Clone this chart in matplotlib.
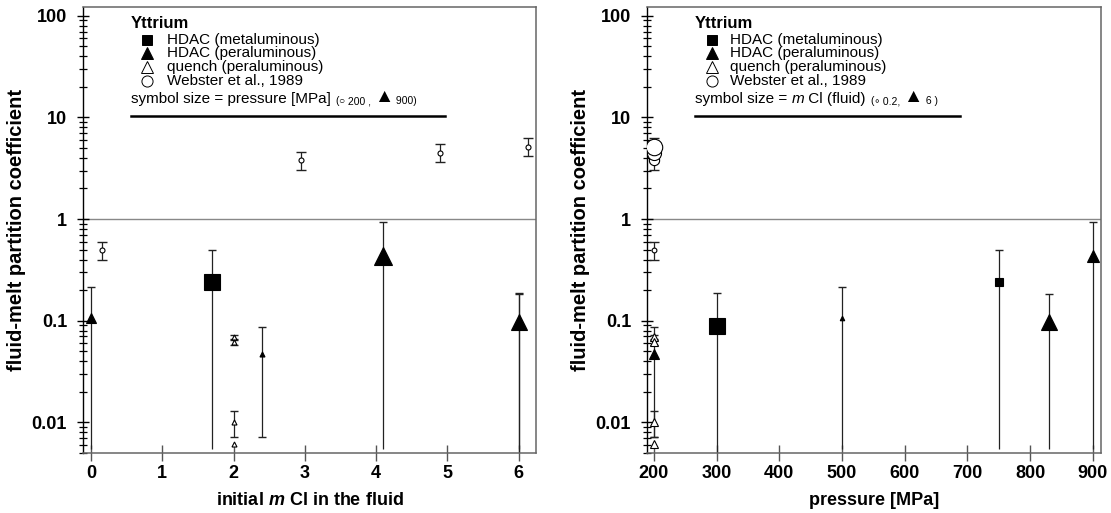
import numpy as np
import matplotlib
matplotlib.use("Agg")
import matplotlib.pyplot as plt
from matplotlib.ticker import LogLocator, NullFormatter, FixedLocator

plt.rcParams['font.family'] = ['Liberation Sans', 'DejaVu Sans']
plt.rcParams['mathtext.fontset'] = 'custom'
plt.rcParams['mathtext.rm'] = 'Liberation Sans'
plt.rcParams['mathtext.it'] = 'Liberation Sans:italic'
plt.rcParams['mathtext.bf'] = 'Liberation Sans:bold'
plt.rcParams['mathtext.bfit'] = 'Liberation Sans:italic:bold'

# Yttrium fluid-melt partition data
# Webster et al., 1989
web_mcl = [0.15, 2.95, 4.9, 6.13]
web_p = [200, 200, 200, 200]
web_D = [0.50, 3.8, 4.5, 5.1]
web_lo = [0.40, 3.03, 3.65, 4.15]
web_hi = [0.60, 4.55, 5.45, 6.25]

# HDAC metaluminous
met_mcl = [6.0, 1.7]
met_p = [300, 750]
met_D = [0.088, 0.242]
met_lo = [0.005, 0.0055]
met_hi = [0.187, 0.495]

# HDAC peraluminous
per_mcl = [0.0, 2.4, 6.0, 4.1]
per_p = [500, 200, 830, 900]
per_D = [0.107, 0.047, 0.097, 0.43]
per_lo = [0.0055, 0.0072, 0.0055, 0.0055]
per_hi = [0.215, 0.087, 0.185, 0.94]

# quench peraluminous
qu_mcl = [2.0, 2.0, 2.0, 2.0]
qu_p = [200, 200, 200, 200]
qu_D = [0.069, 0.062, 0.0101, 0.0061]
qu_lo = [0.065, 0.058, 0.0071, np.nan]
qu_hi = [0.073, 0.066, 0.0129, np.nan]

ECOL = '#222222'


def size_by_pressure(p):
    return 0.72 * (5 + (np.asarray(p) - 200) * 13 / 700)


def size_by_mcl(m):
    return 0.72 * (4.5 + 1.95 * np.asarray(m))


def draw_series(ax, x, D, lo, hi, sizes, marker, face, capsize):
    for xi, d, l, h, s in zip(x, D, lo, hi, sizes):
        if not np.isnan(h):
            ax.errorbar(xi, d, yerr=[[d - l], [h - d]], fmt='none', ecolor=ECOL,
                        elinewidth=0.9, capsize=0, zorder=2)
            ax.plot(xi, h, marker='_', ms=capsize, mew=1.0, color=ECOL, zorder=2)
            if l > 0.006:
                ax.plot(xi, l, marker='_', ms=capsize, mew=1.0, color=ECOL, zorder=2)
        ax.plot(xi, d, marker=marker, ms=s, mfc=face, mec='k', mew=0.8,
                linestyle='none', zorder=3)


def chain_text(ax, x, y, parts):
    s, size, kw = parts[0]
    t = ax.text(x, y, s, transform=ax.transAxes, fontsize=size, va='baseline', **kw)
    for s, size, kw in parts[1:]:
        t = ax.annotate(s, xy=(1, 0), xycoords=t, fontsize=size, va='bottom', **kw)
    return t


def legend_block(ax, x0, xm, xt, line_end, size_parts):
    ax.text(x0, 0.964, 'Yttrium', transform=ax.transAxes, fontsize=12,
            fontweight='bold', va='center')
    rows = [0.927, 0.896, 0.865, 0.834]
    labels = ['HDAC (metaluminous)', 'HDAC (peraluminous)',
              'quench (peraluminous)', 'Webster et al., 1989']
    markers = [('s', 'k', 7.5), ('^', 'k', 8.5), ('^', 'white', 8.5), ('o', 'white', 8)]
    for yy, lab, (mk, fc, ms) in zip(rows, labels, markers):
        ax.plot(xm, yy, marker=mk, mfc=fc, mec='k', mew=0.7, ms=ms,
                transform=ax.transAxes, clip_on=False)
        ax.text(xt, yy, lab, transform=ax.transAxes, fontsize=11, va='center')
    chain_text(ax, x0, 0.784, size_parts)
    ax.plot([x0, line_end], [0.755, 0.755], color='k', lw=1.8,
            transform=ax.transAxes, clip_on=False)


def style_axes(ax):
    ax.set_yscale('log')
    ax.set_ylim(0.005, 122)
    ax.yaxis.set_major_locator(FixedLocator([0.01, 0.1, 1, 10, 100]))
    ax.set_yticklabels(['0.01', '0.1', '1', '10', '100'])
    ax.yaxis.set_minor_locator(LogLocator(base=10, subs=np.arange(2, 10), numticks=20))
    ax.yaxis.set_minor_formatter(NullFormatter())
    ax.tick_params(axis='y', which='major', direction='inout', length=9, width=1,
                   labelsize=13, pad=7)
    ax.tick_params(axis='y', which='minor', direction='inout', length=6, width=0.9)
    ax.tick_params(axis='x', which='major', direction='inout', length=11, width=1,
                   color='#555555', labelsize=13, pad=3)
    ax.tick_params(axis='x', which='minor', length=0)
    for lab in ax.get_xticklabels() + ax.get_yticklabels():
        lab.set_fontweight('bold')
    for side in ['top', 'right', 'bottom']:
        ax.spines[side].set_color('#666666')
        ax.spines[side].set_linewidth(1.1)
    ax.spines['left'].set_color('k')
    ax.spines['left'].set_linewidth(1.0)
    ax.axhline(1, color='#888888', lw=1.0, zorder=1)
    ax.set_ylabel('fluid-melt partition coefficient', fontsize=14.5, fontweight='bold')
    ax.yaxis.set_label_coords(-0.126, 0.5)


fig = plt.figure(figsize=(11.11, 5.13), dpi=100)
ax1 = fig.add_axes([0.0747, 0.117, 0.4077, 0.8694])
ax2 = fig.add_axes([0.5824, 0.117, 0.4086, 0.8694])

# left: versus initial m Cl, symbol size = pressure
draw_series(ax1, web_mcl, web_D, web_lo, web_hi, size_by_pressure(web_p), 'o', 'white', 7)
draw_series(ax1, qu_mcl, qu_D, qu_lo, qu_hi, size_by_pressure(qu_p), '^', 'white', 6)
draw_series(ax1, met_mcl, met_D, met_lo, met_hi, size_by_pressure(met_p), 's', 'k', 6)
draw_series(ax1, per_mcl, per_D, per_lo, per_hi, size_by_pressure(per_p), '^', 'k', 6)
ax1.set_xlim(-0.11, 6.24)
ax1.set_xticks(range(0, 7))
style_axes(ax1)
ax1.set_xlabel('initial $\\mathbfit{m}$ Cl in the fluid', fontsize=13, fontweight='bold')
ax1.xaxis.set_label_coords(0.5, -0.087)
legend_block(ax1, 0.106, 0.142, 0.185, 0.799, [
    ('symbol size = pressure [MPa] ', 11, {}),
    ('(', 7.5, {}),
    ('\u25CB', 7.5, {}),
    (' 200 , ', 7.5, {}),
    ('\u25B2', 14, {}),
    (' 900)', 7.5, {}),
])

# right: versus pressure, symbol size = m Cl
draw_series(ax2, web_p, web_D, web_lo, web_hi, size_by_mcl(web_mcl), 'o', 'white', 7)
draw_series(ax2, qu_p, qu_D, qu_lo, qu_hi, size_by_mcl(qu_mcl), '^', 'white', 6)
draw_series(ax2, met_p, met_D, met_lo, met_hi, size_by_mcl(met_mcl), 's', 'k', 6)
draw_series(ax2, per_p, per_D, per_lo, per_hi, size_by_mcl(per_mcl), '^', 'k', 6)
ax2.set_xlim(189, 913)
ax2.set_xticks(range(200, 1000, 100))
style_axes(ax2)
ax2.set_xlabel('pressure [MPa]', fontsize=13, fontweight='bold')
ax2.xaxis.set_label_coords(0.5, -0.087)
legend_block(ax2, 0.106, 0.143, 0.183, 0.689, [
    ('symbol size = ', 11, {}),
    ('m', 11, {'style': 'italic'}),
    (' Cl (fluid) ', 11, {}),
    ('(', 7.5, {}),
    ('\u2218', 7.5, {}),
    (' 0.2, ', 7.5, {}),
    ('\u25B2', 14, {}),
    (' 6 )', 7.5, {}),
])

fig.savefig('out.png', dpi=100)
